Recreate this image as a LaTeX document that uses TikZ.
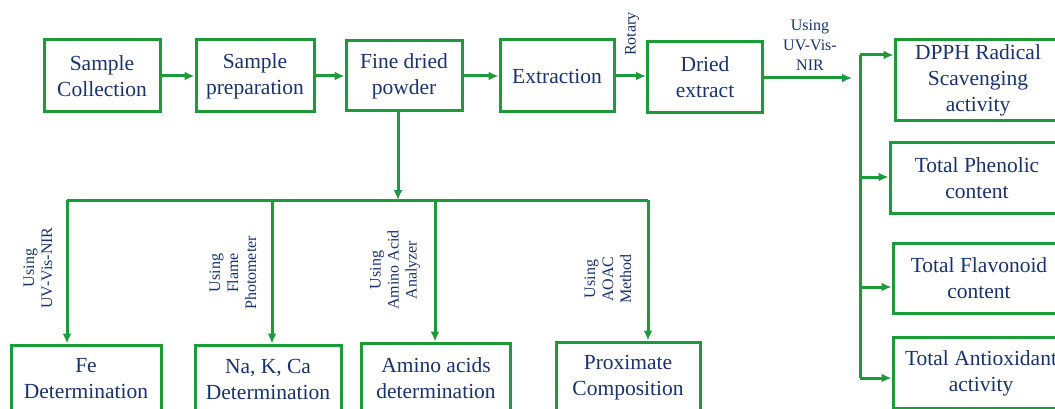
\documentclass[tikz,border=0pt]{standalone}
\usepackage{fontspec}
\setmainfont{Liberation Serif}
\usetikzlibrary{positioning,calc,arrows.meta}
\definecolor{flowgreen}{RGB}{28,155,58}
\definecolor{textblue}{RGB}{25,50,110}
\tikzset{
    stepbox/.style={draw=flowgreen, line width=3pt, text=textblue, align=center,
        inner sep=0pt, font=\fontsize{21.5}{26}\selectfont},
    flow/.style={draw=flowgreen, line width=3pt, -{Latex[length=10pt,width=9pt]}},
    bus/.style={draw=flowgreen, line width=3pt},
    note/.style={text=textblue, align=center, inner sep=0pt, font=\fontsize{16}{18}\selectfont}
}
\begin{document}
\begin{tikzpicture}[x=1pt, y=-1pt]
    \useasboundingbox (0,0) rectangle (1055,409);

    % Main process
    \node[stepbox, minimum width=116pt, minimum height=72pt] (coll) at (102,76) {Sample\\Collection};
    \node[stepbox, minimum width=118pt, minimum height=72pt] (prep) at (255,76) {Sample\\preparation};
    \node[stepbox, minimum width=116pt, minimum height=70pt] (powder) at (404,76) {Fine dried\\powder};
    \node[stepbox, minimum width=114pt, minimum height=72pt] (extr) at (557,76) {Extraction};
    \node[stepbox, minimum width=115pt, minimum height=71pt] (dried) at (705,77) {Dried\\extract};

    \draw[flow] (coll.east) -- (prep.west);
    \draw[flow] (prep.east) -- (powder.west);
    \draw[flow] (powder.east) -- (extr.west);
    \draw[flow] (extr.east) -- (extr.east -| dried.west);

    \node[note, rotate=90] (rotary) at (632,34) {Rotary};
    \node[note, font=\fontsize{16}{20}\selectfont] (uvtop) at (810,45) {Using\\UV-Vis-\\NIR};

    % Antioxidant assays
    \node[stepbox, minimum width=166pt, minimum height=81pt] (dpph) at (978,80) {DPPH Radical\\Scavenging\\activity};
    \node[stepbox, minimum width=174pt, minimum height=70pt] (phen) at (977,178) {Total Phenolic\\content};
    \node[stepbox, minimum width=172pt, minimum height=70pt] (flav) at (979,278) {Total Flavonoid\\content};
    \node[stepbox, minimum width=176pt, minimum height=71pt] (anti) at (981,373) {Total Antioxidant\\activity};

    \coordinate (uvend) at (852,78);
    \draw[flow] (dried.east |- uvend) -- (uvend);

    \coordinate (s1) at (860,55);
    \coordinate (s2) at (860,177);
    \coordinate (s3) at (860,287);
    \coordinate (s4) at (860,378);
    \draw[bus] (s1) -- (s4);
    \draw[flow] (s1) -- (s1 -| dpph.west);
    \draw[flow] (s2) -- (s2 -| phen.west);
    \draw[flow] (s3) -- (s3 -| flav.west);
    \draw[flow] (s4) -- (s4 -| anti.west);

    % Nutritional analysis
    \node[stepbox, minimum width=150pt, minimum height=68pt] (fe) at (86,379) {Fe\\Determination};
    \node[stepbox, minimum width=146pt, minimum height=68pt] (nakca) at (268,379) {Na, K, Ca\\Determination};
    \node[stepbox, minimum width=149pt, minimum height=70pt] (amino) at (436,378) {Amino acids\\determination};
    \node[stepbox, minimum width=144pt, minimum height=72pt] (prox) at (628,378) {Proximate\\Composition};

    \coordinate (tee) at (398,200);
    \draw[flow] (powder.south -| tee) -- (tee);

    \coordinate (d1) at (67,200);
    \coordinate (d2) at (272,200);
    \coordinate (d3) at (435,200);
    \coordinate (d4) at (648,200);
    \draw[bus] (d1) -- (d4);
    \draw[flow] (d1) -- (d1 |- fe.north);
    \draw[flow] (d2) -- (d2 |- nakca.north);
    \draw[flow] (d3) -- (d3 |- amino.north);
    \draw[flow] (d4) -- (d4 |- prox.north);

    \node[note, rotate=90] (uvlab) at (38,268) {Using\\UV-Vis-NIR};
    \node[note, rotate=90] (flamelab) at (233,273) {Using\\Flame\\Photometer};
    \node[note, rotate=90] (aalab) at (395,270) {Using\\Amino Acid\\Analyzer};
    \node[note, rotate=90] (aoaclab) at (608,279) {Using\\AOAC\\Method};
\end{tikzpicture}
\end{document}
